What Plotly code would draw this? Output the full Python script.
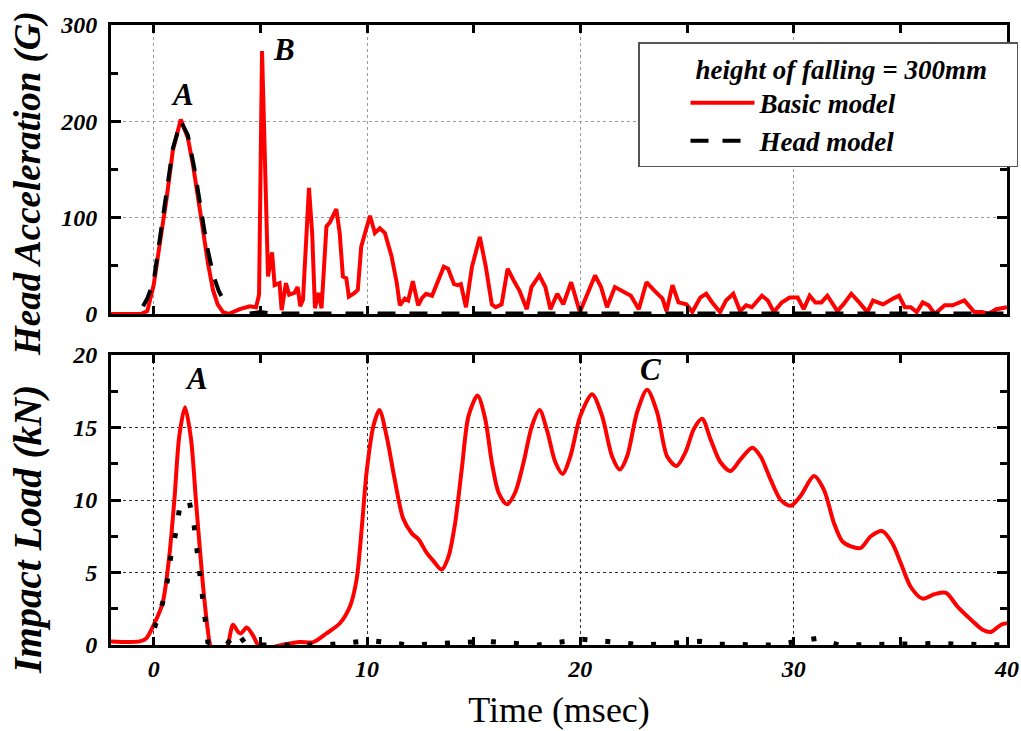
import plotly.graph_objects as go

# ---------------- data ----------------
# Top panel: head acceleration (G)
t_acc_basic = [-2.0, -0.6, -0.3, 0.0, 0.3, 0.6, 0.9, 1.27, 1.6, 1.85, 2.1, 2.31, 2.55, 2.78, 3.0, 3.25,
               3.5, 4.04, 4.5, 4.8, 4.94, 5.08, 5.23, 5.36, 5.55, 5.67, 5.9, 6.0, 6.2, 6.35, 6.6, 6.75,
               6.87, 7.0, 7.28, 7.43, 7.56, 7.72, 7.87, 8.1, 8.26, 8.56, 8.72, 8.87, 9.03, 9.15, 9.42,
               9.57, 9.73, 9.88, 10.14, 10.37, 10.6, 10.84, 11.15, 11.39, 11.54, 11.77, 11.93, 12.15,
               12.4, 12.59, 12.77, 13.05, 13.33, 13.6, 13.8, 14.08, 14.26, 14.4, 14.64, 14.92, 15.29,
               15.57, 15.85, 16.03, 16.31, 16.59, 16.87, 17.15, 17.49, 17.71, 18.08, 18.36, 18.6,
               18.92, 19.2, 19.57, 19.98, 20.32, 20.69, 20.97, 21.25, 21.62, 21.99, 22.37, 22.74,
               23.1, 23.48, 23.85, 24.04, 24.32, 24.6, 24.97, 25.25, 25.62, 25.9, 26.18, 26.55,
               26.83, 27.17, 27.49, 27.77, 28.04, 28.51, 28.79, 29.07, 29.44, 29.81, 30.19, 30.47,
               30.75, 31.02, 31.3, 31.58, 32.05, 32.33, 32.7, 33.07, 33.45, 33.72, 33.91, 34.19,
               34.66, 34.94, 35.21, 35.49, 35.77, 36.05, 36.33, 36.61, 37.08, 37.45, 38.0, 38.47,
               38.84, 39.12, 39.5, 40.0]
acc_basic = [0, 0, 3, 30, 75, 119, 170, 202, 183, 154, 118, 85, 52, 25, 10, 2,
             0, 5, 8, 7, 20, 273, 140, 39, 64, 30, 32, 4, 32, 20, 22, 28,
             8, 15, 131, 84, 6, 22, 6, 91, 95, 109, 84, 39, 37, 18, 22,
             25, 70, 81, 102, 84, 89, 84, 60, 33, 9, 16, 14, 34,
             9, 17, 21, 19, 35, 49, 47, 31, 30, 31, 7, 49, 80,
             49, 10, 7, 10, 47, 35, 24, 5, 28, 40, 28, 5,
             21, 10, 33, 2, 21, 40, 28, 7, 28, 24, 19, 5,
             33, 24, 16, 3, 30, 12, 10, 2, 17, 21, 12, 2,
             14, 21, 3, 9, 7, 19, 14, 2, 12, 17, 17, 5,
             19, 12, 12, 19, 3, 10, 21, 12, 2, 14, 12, 10,
             16, 19, 7, 7, 2, 12, 9, 0, 9, 9, 14, 2,
             2, 0, 5, 7]

t_acc_head = [-0.5, -0.3, 0.0, 0.3, 0.6, 0.9, 1.27, 1.6, 1.9, 2.2, 2.5, 2.8, 3.05, 3.3, None,
              4.5, 5.0, 5.5, 8.0, 12.0, 16.0, 20.0, 24.0, 28.0, 32.0, 36.0, 40.0]
acc_head = [8, 16, 34, 78, 124, 172, 200, 186, 152, 110, 70, 40, 24, 13, None,
            0.5, 2, 0.5, 0.5, 0.5, 0.5, 0.5, 1, 0.5, 0.5, 1, 0.5]

# Bottom panel: impact load (kN)
t_load_basic = [-2.0, -0.66, -0.35, 0.04, 0.42, 0.73, 0.97, 1.2, 1.47, 1.75, 1.99, 2.3, 2.54, 2.65,
                2.9, 3.3, 3.48, 3.72, 3.96, 4.1, 4.36, 4.68, 4.9, 5.3, 6.0, 6.85, 7.48, 8.1, 8.73,
                9.2, 9.51, 9.75, 9.98, 10.3, 10.58, 10.92, 11.3, 11.7, 12.1, 12.41, 12.8, 13.11,
                13.5, 13.82, 14.13, 14.44, 14.76, 15.18, 15.54, 15.85, 16.17, 16.56, 16.94, 17.34,
                17.73, 18.09, 18.44, 18.83, 19.17, 19.53, 20.0, 20.55, 21.02, 21.49, 21.85, 22.19,
                22.66, 23.13, 23.6, 24.07, 24.51, 24.93, 25.32, 25.71, 26.1, 26.57, 27.04, 27.51,
                28.06, 28.45, 28.92, 29.39, 29.86, 30.33, 30.95, 31.42, 31.89, 32.28, 32.68, 33.15,
                33.62, 34.16, 34.63, 35.02, 35.49, 36.04, 36.59, 37.14, 37.68, 38.31, 38.86, 39.25,
                39.72, 40.0]
load_basic = [0.25, 0.25, 0.45, 1.5, 2.9, 6.1, 10.0, 14.4, 16.4, 14.2, 9.8, 4.3, 1.0, 0.0,
              -0.6, -0.6, 0.0, 1.4, 0.9, 0.8, 1.2, 0.6, 0.0, -0.2, 0.0, 0.2, 0.2, 0.8, 1.5,
              2.65, 4.5, 8.0, 11.9, 15.1, 16.2, 14.4, 11.4, 8.7, 7.7, 7.3, 6.35, 5.8,
              5.2, 6.1, 8.4, 12.1, 15.8, 17.2, 15.6, 12.6, 10.5, 9.7, 10.5, 12.6,
              15.1, 16.2, 14.8, 12.6, 11.8, 13.0, 15.8, 17.3, 15.8, 13.0, 12.1, 13.0,
              16.05, 17.6, 16.05, 13.0, 12.35, 13.3, 14.9, 15.6, 14.2, 12.6, 12.0, 12.8,
              13.6, 13.0, 11.4, 10.0, 9.6, 10.3, 11.65, 10.7, 8.4, 7.15, 6.8, 6.7,
              7.5, 7.85, 7.0, 5.65, 4.0, 3.2, 3.5, 3.6, 2.65, 1.75, 1.05, 0.9,
              1.4, 1.5]

t_load_head = [0.04, 0.42, 0.65, 0.8, 1.03, 1.2, 1.45, 1.67, 1.9, 2.03, 2.14, 2.3, 2.42, 2.54, 2.8,
               3.4, 3.88, 4.3, 5.0, 8.0, 10.2, 12.0, 15.6, 18.0, 20.1, 23.0, 25.6, 26.5, 29.0,
               31.1, 32.1, 36.6, 40.0]
load_head = [1.2, 2.9, 4.5, 6.1, 7.7, 9.3, 10.0, 9.9, 8.2, 6.7, 5.0, 3.3, 1.7, 0.2, 0.0,
             0.0, 0.9, 0.1, 0.0, 0.0, 0.3, 0.0, 0.25, 0.0, 0.4, 0.0, 0.25, 0.05, 0.0,
             0.45, 0.0, 0.1, 0.0]

labels = [("A", 1.36, 228, "x", "y"), ("B", 6.1, 275, "x", "y"),
          ("A", 2.0, 18.35, "x2", "y2"), ("C", 23.3, 19.0, "x2", "y2")]

x_range = [-2, 40]
acc_range = [0, 300]
load_range = [0, 20]

# ---------------- figure ----------------
SERIF = "Liberation Serif, Times New Roman, serif"
RED = "#ff0000"

fig = go.Figure()
fig.add_trace(go.Scatter(x=t_acc_basic, y=acc_basic, mode="lines", name="Basic model",
                         line=dict(color=RED, width=4), xaxis="x", yaxis="y", legendrank=1))
fig.add_trace(go.Scatter(x=t_acc_head, y=acc_head, mode="lines", name="Head model",
                         line=dict(color="black", width=4, dash="18px,14px"),
                         xaxis="x", yaxis="y", legendrank=2, connectgaps=False))
fig.add_trace(go.Scatter(x=t_load_basic, y=load_basic, mode="lines", name="Basic model",
                         line=dict(color=RED, width=4, shape="spline", smoothing=0.8),
                         xaxis="x2", yaxis="y2", showlegend=False))
fig.add_trace(go.Scatter(x=t_load_head, y=load_head, mode="lines", name="Head model",
                         line=dict(color="black", width=5, dash="5px,18px"),
                         xaxis="x2", yaxis="y2", showlegend=False))

tickfont = dict(family=SERIF, size=24, color="black", weight="bold", style="italic")

def xax(show_labels, gridcolor):
    return dict(range=x_range, tick0=0, dtick=10, ticks="inside", ticklen=8, tickwidth=2.5,
                tickcolor="black", showticklabels=show_labels, tickfont=tickfont,
                minor=dict(dtick=5, tick0=0, ticks="inside", ticklen=8, tickwidth=2.5,
                           tickcolor="black", showgrid=False),
                showgrid=True, gridcolor=gridcolor, griddash="dot", gridwidth=1,
                showline=True, linewidth=3, linecolor="black", mirror="allticks",
                zeroline=False)

def yax(rng, dtick, minor, domain, gridcolor):
    return dict(range=rng, dtick=dtick, tick0=0, ticks="inside", ticklen=10, tickwidth=2.5,
                tickcolor="black", tickfont=tickfont, ticklabelstandoff=6,
                minor=dict(dtick=minor, tick0=0, ticks="inside", ticklen=7, tickwidth=2.5,
                           tickcolor="black", showgrid=False),
                showgrid=True, gridcolor=gridcolor, griddash="dot", gridwidth=1,
                showline=True, linewidth=3, linecolor="black", mirror="allticks",
                zeroline=False, domain=domain)

W, H = 1021, 731
ML, MR, MT, MB = 111, 14, 25, 86
pw, ph = W - ML - MR, H - MT - MB

def px2paper(px, py):
    return (px - ML) / pw, (H - MB - py) / ph

top_dom = [(H - MB - 314) / ph, 1.0]
bot_dom = [0.0, (H - MB - 355) / ph]

xa = xax(False, "#9a9a9a")
xa.update(anchor="y", matches="x2")
xb = xax(True, "#333333")
xb.update(anchor="y2",
          title=dict(text="Time (msec)", font=dict(family=SERIF, size=36, color="black"),
                     standoff=17))

annotations = []
for txt, xv, yv, xr, yr in labels:
    annotations.append(dict(text=txt, x=xv, y=yv, xref=xr, yref=yr, showarrow=False,
                            font=dict(family=SERIF, size=31, color="black",
                                      weight="bold", style="italic")))

for txt, cy, fs in [("Head Acceleration (G)", 184, 37), ("Impact Load (kN)", 530, 39)]:
    ax_, ay_ = px2paper(28, cy)
    annotations.append(dict(text=txt, x=ax_, y=ay_, xref="paper", yref="paper",
                            showarrow=False, textangle=-90, xanchor="center", yanchor="middle",
                            font=dict(family=SERIF, size=fs, color="black",
                                      weight="bold", style="italic")))

lx, ly = px2paper(638, 42)
nb = "\u00a0"
fig.update_layout(
    width=W, height=H,
    margin=dict(l=ML, r=MR, t=MT, b=MB, pad=0, autoexpand=False),
    paper_bgcolor="white", plot_bgcolor="white",
    xaxis=xa, xaxis2=xb,
    yaxis=yax(acc_range, 100, 50, top_dom, "#9a9a9a"),
    yaxis2=yax(load_range, 5, 2.5, bot_dom, "#333333"),
    annotations=annotations,
    showlegend=True,
    legend=dict(x=lx, y=ly, xanchor="left", yanchor="top", xref="paper", yref="paper",
                bgcolor="white", bordercolor="#555555", borderwidth=1.5,
                title=dict(text=nb * 8 + "height of falling = 300mm" + nb * 4,
                           font=dict(family=SERIF, size=27, color="black",
                                     weight="bold", style="italic")),
                font=dict(family=SERIF, size=27, color="black", weight="bold", style="italic"),
                indentation=46, itemwidth=64, tracegroupgap=0),
)

fig.write_html("out.html", config={"displayModeBar": False},
               post_script="document.body.style.margin='0';document.body.style.overflow='hidden';")
